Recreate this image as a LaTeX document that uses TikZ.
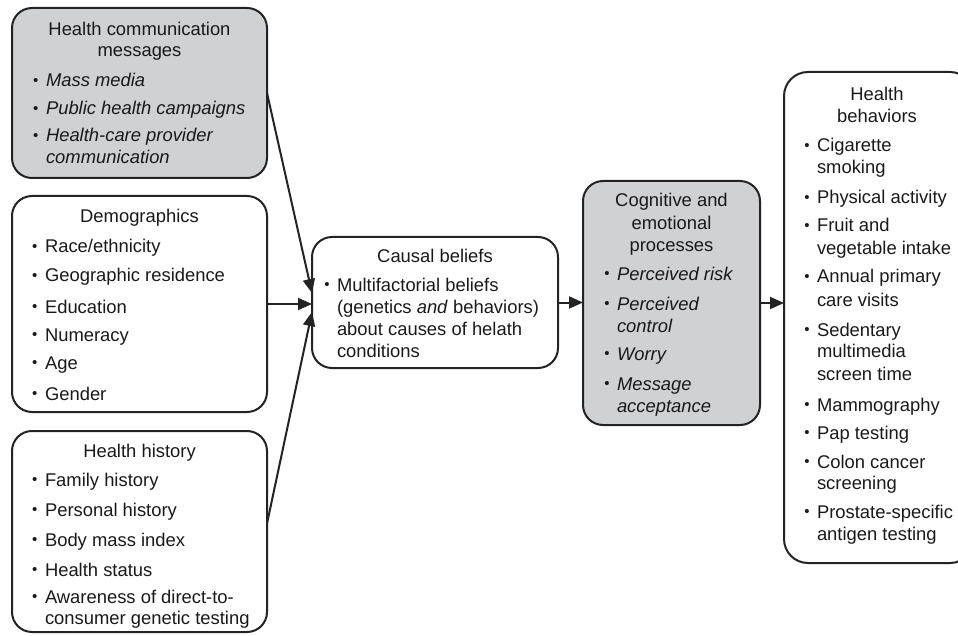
\documentclass[tikz,border=0pt]{standalone}
\usepackage{fontspec}
\setmainfont{Liberation Sans}
\usetikzlibrary{arrows.meta,calc}
\definecolor{linecol}{RGB}{35,35,35}
\definecolor{boxgray}{RGB}{208,209,211}
\definecolor{textcol}{RGB}{25,25,25}
\newcommand\bul{\llap{\raisebox{1.1pt}{\fontsize{15}{15}\selectfont •}\hspace{7.5pt}}}
\begin{document}
\begin{tikzpicture}[x=1pt,y=-1pt,
  box/.style={draw=linecol, line width=2pt, rounded corners=20pt, anchor=north west, inner sep=0pt, outer sep=0pt},
  graybox/.style={box, fill=boxgray},
  txt/.style={anchor=base west, inner sep=0pt, outer sep=0pt, text=textcol, font=\fontsize{18.4}{22}\selectfont},
  ttl/.style={txt, anchor=base},
  conn/.style={draw=linecol, line width=2pt, -{Triangle[length=14pt,width=12pt]}}]
\useasboundingbox (0,0) rectangle (958,636);

% boxes
\node[graybox, minimum width=255pt, minimum height=170pt] (b1) at (12,8) {};
\node[box, minimum width=255pt, minimum height=216pt] (b2) at (12,196) {};
\node[box, minimum width=255pt, minimum height=201pt] (b3) at (12,431) {};
\node[box, minimum width=246pt, minimum height=131pt] (b4) at (312,237) {};
\node[graybox, minimum width=177pt, minimum height=244pt] (b5) at (583,181) {};
\node[box, rounded corners=24pt, minimum width=190pt, minimum height=491pt] (b6) at (784,72) {};

% box 1 text
\node[ttl] (b1h1) at (139.5,36) {Health communication};
\node[ttl] (b1h2) at (139.5,57) {messages};
\node[txt] (b1a) at (46,87) {\bul\emph{Mass media}};
\node[txt] (b1b) at (46,115) {\bul\emph{Public health campaigns}};
\node[txt] (b1c) at (46,142) {\bul\emph{Health-care provider}};
\node[txt] (b1d) at (46,164) {\emph{communication}};

% box 2 text
\node[ttl] (b2h) at (139.5,223) {Demographics};
\node[txt] (b2a) at (45,253) {\bul Race/ethnicity};
\node[txt] (b2b) at (45,282) {\bul Geographic residence};
\node[txt] (b2c) at (45,313) {\bul Education};
\node[txt] (b2d) at (45,341) {\bul Numeracy};
\node[txt] (b2e) at (45,369) {\bul Age};
\node[txt] (b2f) at (45,400) {\bul Gender};

% box 3 text
\node[ttl] (b3h) at (139.5,457) {Health history};
\node[txt] (b3a) at (45,486) {\bul Family history};
\node[txt] (b3b) at (45,516) {\bul Personal history};
\node[txt] (b3c) at (45,546) {\bul Body mass index};
\node[txt] (b3d) at (45,576) {\bul Health status};
\node[txt] (b3e) at (45,603) {\bul Awareness of direct-to-};
\node[txt] (b3f) at (45,624) {consumer genetic testing};

% box 4 text
\node[ttl] (b4h) at (435,262) {Causal beliefs};
\node[txt] (b4a) at (337,291) {\bul Multifactorial beliefs};
\node[txt] (b4b) at (337,313) {(genetics \emph{and} behaviors)};
\node[txt] (b4c) at (337,335) {about causes of helath};
\node[txt] (b4d) at (337,357) {conditions};

% box 5 text
\node[ttl] (b5h1) at (671.5,207) {Cognitive and};
\node[ttl] (b5h2) at (671.5,230) {emotional};
\node[ttl] (b5h3) at (671.5,252) {processes};
\node[txt] (b5a) at (617,280) {\bul\emph{Perceived risk}};
\node[txt] (b5b) at (617,310) {\bul\emph{Perceived}};
\node[txt] (b5c) at (617,332) {\emph{control}};
\node[txt] (b5d) at (617,360) {\bul\emph{Worry}};
\node[txt] (b5e) at (617,390) {\bul\emph{Message}};
\node[txt] (b5f) at (617,412) {\emph{acceptance}};

% box 6 text
\node[ttl] (b6h1) at (877,101) {Health};
\node[ttl] (b6h2) at (877,123) {behaviors};
\node[txt] (b6a) at (817,152) {\bul Cigarette};
\node[txt] (b6b) at (817,174) {smoking};
\node[txt] (b6c) at (817,204) {\bul Physical activity};
\node[txt] (b6d) at (817,232) {\bul Fruit and};
\node[txt] (b6e) at (817,255) {vegetable intake};
\node[txt] (b6f) at (817,283) {\bul Annual primary};
\node[txt] (b6g) at (817,306) {care visits};
\node[txt] (b6h) at (817,336) {\bul Sedentary};
\node[txt] (b6i) at (817,357) {multimedia};
\node[txt] (b6j) at (817,380) {screen time};
\node[txt] (b6k) at (817,411) {\bul Mammography};
\node[txt] (b6l) at (817,439) {\bul Pap testing};
\node[txt] (b6m) at (817,468) {\bul Colon cancer};
\node[txt] (b6n) at (817,489) {screening};
\node[txt] (b6o) at (817,518) {\bul Prostate-specific};
\node[txt] (b6p) at (817,540) {antigen testing};

% connectors
\draw[conn] (b1.east) -- ($(b4.west)+(0,-9.5)$);
\draw[conn] (b2.east) -- (b2.east -| b4.west);
\draw[conn] ($(b3.east)+(0,-8)$) -- ($(b4.west)+(0,9.5)$);
\draw[conn] (b4.east) -- (b4.east -| b5.west);
\draw[conn] (b5.east) -- (b5.east -| b6.west);
\end{tikzpicture}
\end{document}
